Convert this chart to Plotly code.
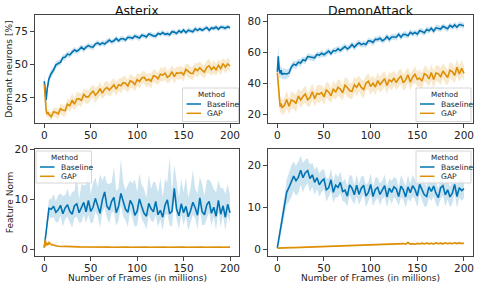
import plotly.graph_objects as go

# ---------------- data ----------------
X = [0, 1, 2, 3, 4, 5] + [7.5 + 2.5 * i for i in range(78)]  # frames (millions)

TITLES = ["Asterix", "DemonAttack"]
METHODS = ["Baseline", "GAP"]
X_TICKS = [0, 50, 100, 150, 200]
Y_TICKS = [[25, 50, 75], [20, 40, 60, 80], [0, 10, 20], [0, 10, 20]]

# Dormant neurons [%], Asterix
AST_BASE = [37.5, 29.0, 23.5, 31.0, 36.5, 39.5,
            43.4, 46.0, 49.9, 51.2, 51.9, 55.3, 55.7, 58.0,
            57.4, 59.5, 61.1, 60.1, 61.3, 63.2, 61.5, 63.3,
            64.4, 63.6, 63.3, 65.6, 66.5, 65.3, 66.5, 65.6,
            67.5, 68.6, 67.2, 68.0, 69.8, 68.0, 69.6, 69.6,
            68.6, 70.7, 70.5, 69.9, 71.7, 70.8, 70.1, 72.3,
            71.9, 70.9, 73.2, 72.6, 71.7, 71.6, 73.6, 72.9,
            74.3, 72.9, 73.4, 72.6, 74.9, 74.6, 73.6, 75.6,
            74.4, 76.2, 74.2, 76.0, 75.7, 74.9, 77.1, 75.9,
            77.1, 76.0, 77.0, 78.0, 76.0, 77.8, 77.3, 78.4,
            76.8, 78.4, 78.2, 77.5, 78.7, 77.9]
AST_BASE_SD = [6.0, 7.0, 5.0, 4.5, 3.5, 3.0,
               3.0, 2.6, 2.8, 2.4, 2.5, 2.2, 2.6, 2.1,
               2.3, 1.9, 2.5, 2.0, 2.2, 1.8, 2.4, 2.0,
               2.1, 1.8, 2.3, 1.9, 2.2, 1.7, 2.0, 2.4,
               1.9, 2.2, 1.7, 2.3, 2.0, 1.8, 2.2, 1.9,
               2.0, 1.7, 2.2, 1.8, 2.1, 1.9, 2.3, 1.7,
               1.9, 2.1, 1.7, 2.0, 1.8, 2.2, 1.7, 1.9,
               2.0, 1.7, 2.1, 1.8, 1.9, 2.2, 1.7, 2.0,
               1.8, 2.0, 1.7, 2.1, 1.8, 1.9, 2.2, 1.7,
               1.9, 1.7, 2.0, 1.8, 2.1, 1.7, 1.9, 2.0,
               1.8, 1.7, 2.0, 1.8, 1.7, 1.6]
AST_GAP = [35.0, 23.0, 15.5, 12.8, 14.0, 12.5,
           10.8, 14.5, 14.0, 12.9, 16.8, 15.6, 15.3, 20.2,
           19.1, 23.2, 20.2, 24.1, 24.2, 23.2, 27.5, 25.7,
           25.7, 28.3, 30.0, 27.0, 28.8, 32.0, 28.6, 31.5,
           32.8, 30.9, 32.9, 34.8, 31.5, 34.9, 34.1, 36.4,
           36.1, 34.0, 37.8, 37.0, 35.0, 38.8, 37.3, 40.0,
           40.6, 38.1, 39.0, 37.6, 41.7, 41.1, 39.3, 42.8,
           42.2, 43.6, 40.5, 41.7, 44.7, 41.0, 43.8, 43.6,
           44.2, 42.4, 46.5, 45.3, 43.6, 43.4, 46.9, 45.6,
           47.7, 45.7, 44.5, 48.1, 49.1, 46.3, 48.3, 46.2,
           49.6, 47.1, 50.8, 48.2, 50.6, 49.0]
AST_GAP_SD = [3.0, 6.0, 4.0, 3.0, 3.0, 3.0,
              3.0, 3.2, 3.5, 3.8, 4.0, 4.2, 4.5, 4.3,
              4.6, 5.2, 4.4, 5.5, 4.8, 5.1, 4.5, 5.6,
              4.9, 5.3, 4.6, 5.8, 4.7, 5.2, 4.5, 5.4,
              5.0, 4.6, 5.5, 4.8, 5.3, 4.5, 5.7, 4.9,
              5.2, 4.7, 5.6, 4.6, 5.1, 4.8, 5.4, 4.5,
              4.9, 5.3, 4.6, 5.5, 4.8, 5.0, 4.5, 5.2,
              4.7, 5.4, 4.5, 5.1, 4.9, 5.3, 4.6, 5.0,
              4.8, 5.2, 4.5, 5.3, 4.7, 5.0, 4.6, 5.4,
              4.9, 4.6, 5.1, 4.8, 5.5, 4.7, 5.0, 4.6,
              4.8, 5.2, 4.5, 4.9, 4.6, 4.4]

# Dormant neurons [%], DemonAttack
DEM_BASE = [47.5, 57.5, 49.0, 46.5, 48.5, 46.0,
            46.4, 46.1, 46.8, 50.6, 52.5, 51.8, 53.7, 53.2,
            55.3, 54.7, 57.4, 57.1, 56.5, 56.6, 58.8, 58.3,
            59.5, 58.6, 59.8, 61.0, 59.3, 61.3, 61.0, 62.4,
            61.4, 62.9, 63.9, 62.3, 63.4, 65.2, 63.4, 65.1,
            66.3, 65.1, 65.8, 65.2, 67.6, 67.4, 66.5, 68.6,
            68.4, 69.3, 67.7, 68.5, 70.3, 68.4, 70.1, 70.1,
            69.9, 71.8, 69.9, 71.8, 71.6, 70.9, 73.1, 72.0,
            73.0, 71.9, 74.1, 73.7, 72.7, 74.9, 74.1, 75.7,
            73.8, 76.0, 75.8, 75.2, 77.0, 76.1, 75.4, 77.6,
            76.4, 77.9, 76.4, 78.1, 77.8, 77.3]
DEM_BASE_SD = [5.0, 7.0, 5.0, 4.0, 3.5, 3.5,
               3.5, 3.0, 2.8, 2.5, 2.4, 2.6, 2.2, 2.4,
               2.1, 2.3, 1.9, 2.2, 2.0, 2.3, 1.9, 2.1,
               2.2, 1.8, 2.3, 1.9, 2.1, 1.8, 2.2, 2.0,
               1.9, 2.2, 1.8, 2.1, 2.0, 1.8, 2.3, 1.9,
               2.1, 1.8, 2.2, 1.9, 2.0, 1.8, 2.2, 1.9,
               1.8, 2.1, 1.9, 2.0, 1.8, 2.2, 1.9, 2.0,
               2.1, 1.8, 2.0, 1.9, 2.2, 1.8, 2.0, 1.9,
               1.8, 2.1, 1.9, 2.0, 1.8, 2.1, 1.9, 1.8,
               2.0, 1.8, 2.1, 1.9, 2.0, 1.8, 2.1, 1.9,
               1.8, 2.0, 1.9, 1.8, 2.0, 1.7]
DEM_GAP = [47.0, 37.0, 29.5, 25.0, 27.0, 24.5,
           25.6, 29.6, 25.3, 29.3, 28.7, 27.0, 31.9, 29.3,
           31.5, 33.2, 29.4, 30.9, 34.6, 30.1, 33.5, 33.1,
           34.1, 31.3, 35.8, 34.5, 32.0, 36.5, 34.3, 37.5,
           36.3, 33.9, 38.8, 37.4, 35.3, 34.9, 39.2, 37.5,
           40.0, 37.4, 36.0, 40.2, 41.4, 38.0, 40.2, 37.7,
           41.8, 39.2, 41.1, 43.1, 38.7, 42.4, 41.1, 43.5,
           40.6, 43.2, 44.7, 40.5, 42.3, 45.5, 40.9, 44.0,
           45.9, 42.6, 43.5, 41.5, 46.3, 45.4, 42.9, 47.1,
           42.5, 46.8, 46.2, 44.4, 48.1, 45.7, 43.9, 48.5,
           47.6, 45.2, 50.5, 46.1, 49.8, 46.5]
DEM_GAP_SD = [3.0, 6.0, 5.0, 5.0, 5.0, 5.0,
              5.2, 5.8, 4.9, 5.5, 5.1, 5.9, 4.8, 5.4,
              5.0, 5.7, 4.7, 5.3, 5.6, 4.9, 5.2, 6.0,
              4.8, 5.4, 5.1, 5.8, 4.7, 5.5, 5.0, 5.3,
              5.6, 4.9, 5.2, 6.1, 4.8, 5.4, 5.0, 5.7,
              4.9, 5.3, 5.6, 4.8, 5.2, 5.5, 4.9, 5.1,
              5.4, 4.8, 5.7, 5.0, 5.3, 4.9, 5.6, 5.1,
              4.8, 5.5, 5.0, 5.2, 5.8, 4.9, 5.3, 5.0,
              5.4, 4.8, 5.6, 5.1, 4.9, 5.5, 5.0, 5.3,
              5.7, 4.9, 5.2, 5.4, 4.8, 5.6, 5.0, 5.2,
              5.5, 4.9, 5.3, 5.0, 5.6, 4.8]

# Feature Norm, Asterix
FA_BASE = [0.3, 1.9, 3.5, 5.1, 6.7, 8.2,
           8.0, 8.6, 7.4, 7.9, 8.8, 7.1, 8.3, 8.9,
           7.6, 7.0, 8.7, 9.1, 7.3, 8.2, 9.4, 7.5,
           9.8, 7.6, 8.4, 10.2, 8.9, 7.2, 9.9, 11.5,
           8.6, 7.9, 9.6, 10.4, 7.3, 8.6, 11.2, 9.3,
           8.0, 7.4, 9.8, 8.9, 6.8, 7.6, 10.1, 8.5,
           7.2, 6.6, 9.2, 8.1, 7.5, 9.6, 6.9, 7.8,
           6.4, 8.8, 9.9, 7.1, 7.6, 12.2, 8.0, 6.7,
           9.1, 7.3, 8.6, 6.5, 7.7, 9.4, 8.3, 6.8,
           10.3, 7.5, 6.9, 8.9, 9.6, 7.2, 8.4, 6.6,
           9.8, 7.0, 8.7, 6.4, 9.0, 7.3]
FA_BASE_SD = [0.3, 1.0, 1.5, 1.5, 1.5, 1.5,
              1.8, 2.2, 2.0, 2.5, 2.1, 2.6, 2.3, 2.4,
              2.2, 2.7, 2.4, 2.6, 2.0, 2.8, 2.5, 2.3,
              2.9, 2.4, 3.0, 2.6, 2.3, 2.9, 2.5, 3.1,
              2.4, 2.8, 2.2, 3.0, 2.6, 2.9, 2.3, 2.7,
              2.2, 2.9, 2.0, 2.6, 2.3, 2.9, 2.1, 2.5,
              2.0, 2.7, 2.3, 2.4, 2.1, 2.8, 2.4, 1.9,
              2.6, 2.1, 2.9, 2.3, 3.1, 2.4, 2.0, 2.7,
              2.2, 2.5, 2.0, 2.8, 2.3, 2.5, 2.1, 2.9,
              2.3, 2.6, 2.1, 2.8, 2.2, 2.5, 2.0, 2.8,
              2.1, 2.6, 1.9, 2.7, 2.2, 2.0]
FA_BASE_SD_HI = [0.5, 1.2, 1.5, 1.5, 1.5, 1.8,
                 2.0, 2.5, 2.2, 3.0, 2.4, 3.5, 2.6, 3.2,
                 2.8, 4.5, 3.0, 5.8, 2.6, 4.9, 3.4, 5.5,
                 6.3, 3.5, 5.0, 4.2, 3.6, 7.8, 3.9, 3.4,
                 4.6, 5.2, 3.8, 6.1, 4.4, 3.7, 6.9, 4.2,
                 3.8, 5.6, 4.0, 4.3, 7.2, 3.9, 5.1, 4.4,
                 4.9, 3.6, 5.8, 4.0, 6.1, 3.7, 4.5, 6.6,
                 4.0, 5.3, 3.5, 11.5, 3.9, 4.8, 6.0, 3.6,
                 5.0, 4.1, 5.9, 3.8, 4.6, 6.5, 3.9, 4.4,
                 4.3, 5.6, 3.8, 5.0, 4.4, 6.1, 3.7, 4.8,
                 4.0, 5.2, 3.6, 4.7, 4.1, 3.5]
FA_GAP = [0.3, 1.9, 0.7, 1.2, 0.8, 1.3,
          0.9, 0.7, 0.65, 0.55, 0.6, 0.5, 0.52, 0.48,
          0.46, 0.44, 0.45, 0.42, 0.43, 0.40, 0.41, 0.39,
          0.38, 0.40, 0.37, 0.39, 0.36, 0.38, 0.37, 0.39,
          0.36, 0.38, 0.35, 0.37, 0.36, 0.38, 0.35, 0.37,
          0.36, 0.38, 0.35, 0.37, 0.36, 0.38, 0.35, 0.37,
          0.36, 0.38, 0.35, 0.37, 0.36, 0.38, 0.35, 0.37,
          0.36, 0.38, 0.35, 0.37, 0.36, 0.38, 0.35, 0.37,
          0.36, 0.38, 0.35, 0.37, 0.36, 0.38, 0.35, 0.37,
          0.36, 0.38, 0.35, 0.37, 0.36, 0.38, 0.35, 0.37,
          0.36, 0.38, 0.35, 0.37, 0.36, 0.37]
FA_GAP_SD = [0.2, 0.5, 0.4, 0.5, 0.4, 0.4,
             0.3, 0.25, 0.2, 0.15, 0.15, 0.12, 0.12, 0.1,
             0.1, 0.1, 0.1, 0.09, 0.09, 0.09, 0.08, 0.08,
             0.08, 0.08, 0.08, 0.08, 0.08, 0.08, 0.08, 0.08,
             0.08, 0.08, 0.08, 0.08, 0.08, 0.08, 0.08, 0.08,
             0.08, 0.08, 0.08, 0.08, 0.08, 0.08, 0.08, 0.08,
             0.08, 0.08, 0.08, 0.08, 0.08, 0.08, 0.08, 0.08,
             0.08, 0.08, 0.08, 0.08, 0.08, 0.08, 0.08, 0.08,
             0.08, 0.08, 0.08, 0.08, 0.08, 0.08, 0.08, 0.08,
             0.08, 0.08, 0.08, 0.08, 0.08, 0.08, 0.08, 0.08,
             0.08, 0.08, 0.08, 0.08, 0.08, 0.08]

# Feature Norm, DemonAttack
FD_BASE = [0.3, 1.6, 2.9, 4.2, 5.5, 6.8,
           10.0, 13.6, 14.8, 16.3, 17.5, 16.4, 17.2, 18.9,
           17.1, 18.3, 18.8, 16.9, 17.8, 16.0, 17.1, 15.4,
           16.3, 16.8, 14.2, 14.7, 16.6, 13.6, 15.3, 14.8,
           16.0, 13.8, 14.1, 12.7, 15.4, 14.6, 13.0, 15.3,
           13.1, 14.6, 15.3, 12.7, 13.6, 15.5, 12.6, 14.3,
           14.8, 13.1, 14.2, 15.2, 12.5, 14.6, 13.6, 14.9,
           14.4, 12.6, 15.1, 14.2, 12.5, 14.9, 13.5, 15.2,
           14.3, 12.7, 15.5, 14.4, 13.0, 12.6, 14.9, 13.8,
           15.1, 13.4, 12.3, 14.7, 15.2, 13.0, 14.2, 12.5,
           13.4, 15.5, 12.6, 14.7, 14.0, 14.5]
FD_BASE_SD = [0.3, 0.8, 1.2, 1.5, 1.8, 2.0,
              2.5, 3.0, 3.5, 3.8, 3.5, 3.6, 3.8, 3.5,
              3.5, 3.2, 3.0, 3.3, 2.9, 3.0, 2.7, 2.8,
              2.6, 2.4, 2.8, 2.3, 2.7, 2.5, 2.9, 2.4,
              2.6, 2.3, 2.8, 2.5, 2.4, 2.9, 2.3, 2.6,
              2.5, 2.8, 2.2, 2.7, 2.4, 2.6, 2.3, 2.8,
              2.4, 2.6, 2.2, 2.7, 2.5, 2.3, 2.8, 2.4,
              2.6, 2.3, 2.7, 2.4, 2.5, 2.8, 2.2, 2.6,
              2.4, 2.7, 2.3, 2.5, 2.8, 2.4, 2.6, 2.2,
              2.5, 2.7, 2.3, 2.6, 2.4, 2.8, 2.3, 2.5,
              2.6, 2.3, 2.7, 2.4, 2.5, 2.2]
FD_GAP = [0.2, 0.22, 0.22, 0.24, 0.25, 0.26,
          0.28, 0.30, 0.31, 0.33, 0.34, 0.36, 0.37, 0.39,
          0.40, 0.42, 0.43, 0.45, 0.46, 0.48, 0.50, 0.52,
          0.54, 0.58, 0.55, 0.62, 0.60, 0.66, 0.63, 0.70,
          0.68, 0.75, 0.72, 0.80, 0.76, 0.85, 0.80, 0.90,
          0.86, 0.95, 0.88, 1.00, 0.92, 1.05, 0.96, 1.08,
          1.00, 1.12, 1.03, 1.15, 1.06, 1.18, 1.08, 1.20,
          1.10, 1.25, 1.12, 1.30, 1.15, 1.55, 1.18, 1.28,
          1.16, 1.35, 1.20, 1.40, 1.22, 1.42, 1.25, 1.38,
          1.22, 1.45, 1.26, 1.40, 1.24, 1.48, 1.28, 1.42,
          1.26, 1.50, 1.30, 1.46, 1.32, 1.40]
FD_GAP_SD = [0.05, 0.05, 0.05, 0.05, 0.06, 0.06,
             0.06, 0.07, 0.07, 0.08, 0.08, 0.08, 0.09, 0.09,
             0.1, 0.1, 0.1, 0.1, 0.11, 0.11, 0.11, 0.12,
             0.12, 0.12, 0.12, 0.13, 0.13, 0.13, 0.14, 0.14,
             0.14, 0.15, 0.15, 0.15, 0.16, 0.16, 0.16, 0.17,
             0.17, 0.17, 0.18, 0.18, 0.18, 0.18, 0.19, 0.19,
             0.19, 0.2, 0.2, 0.2, 0.2, 0.21, 0.21, 0.21,
             0.22, 0.22, 0.22, 0.22, 0.23, 0.3, 0.23, 0.23,
             0.23, 0.24, 0.24, 0.24, 0.24, 0.25, 0.25, 0.25,
             0.25, 0.25, 0.26, 0.26, 0.26, 0.26, 0.26, 0.27,
             0.27, 0.27, 0.27, 0.27, 0.28, 0.28]

# ---------------- figure ----------------
W, H = 479, 286
FONT = "DejaVu Sans"
BLUE, ORANGE = "#0173b2", "#de8f05"
BLUE_FILL, ORANGE_FILL = "rgba(1,115,178,0.2)", "rgba(222,143,5,0.2)"


def fx(p):
    return p / W


def fy(p):
    return 1 - p / H


panels = [
    # (mean, lo_sd, hi_sd) for Baseline, then GAP
    [(AST_BASE, AST_BASE_SD, AST_BASE_SD), (AST_GAP, AST_GAP_SD, AST_GAP_SD)],
    [(DEM_BASE, DEM_BASE_SD, DEM_BASE_SD), (DEM_GAP, DEM_GAP_SD, DEM_GAP_SD)],
    [(FA_BASE, FA_BASE_SD, FA_BASE_SD_HI), (FA_GAP, FA_GAP_SD, FA_GAP_SD)],
    [(FD_BASE, FD_BASE_SD, FD_BASE_SD), (FD_GAP, FD_GAP_SD, FD_GAP_SD)],
]

fig = go.Figure()
for i, series in enumerate(panels):
    xa = "x" if i == 0 else f"x{i + 1}"
    ya = "y" if i == 0 else f"y{i + 1}"
    for (mean, lo, hi), col, fill, name in zip(series, [BLUE, ORANGE],
                                               [BLUE_FILL, ORANGE_FILL], METHODS):
        upper = [m + h for m, h in zip(mean, hi)]
        lower = [m - l for m, l in zip(mean, lo)]
        fig.add_trace(go.Scatter(
            x=X + X[::-1], y=upper + lower[::-1], fill="toself",
            fillcolor=fill, line=dict(width=0), mode="lines",
            hoverinfo="skip", showlegend=False, xaxis=xa, yaxis=ya))
        fig.add_trace(go.Scatter(
            x=X, y=mean, mode="lines", name=name,
            line=dict(color=col, width=1.6), showlegend=False,
            xaxis=xa, yaxis=ya))

# axes geometry in pixels
XDOM = [(35, 239.3), (268, 473.3)]
YDOM = [(15, 123.3), (149, 256.3)]
YRANGES = [[5.8, 87.5], [14.2, 84.3], [-1.47, 20.14], [-1.75, 24.0]]

axis_common = dict(
    showline=True, mirror=True, linecolor="#444", linewidth=1,
    ticks="outside", ticklen=4, tickwidth=1, tickcolor="#444",
    showgrid=False, zeroline=False, automargin=False,
    tickfont=dict(family=FONT, size=10.5, color="#222"),
)

layout = dict(
    template="none",
    width=W, height=H, margin=dict(l=0, r=0, t=0, b=0, pad=0),
    paper_bgcolor="white", plot_bgcolor="white", showlegend=False,
    font=dict(family=FONT, color="#222"),
)
for i in range(4):
    r, c = divmod(i, 2)
    suffix = "" if i == 0 else str(i + 1)
    layout["xaxis" + suffix] = dict(
        axis_common, domain=[fx(XDOM[c][0]), fx(XDOM[c][1])],
        range=[-10, 210], tickvals=X_TICKS, anchor="y" + suffix,
        ticklabelstandoff=-2)
    layout["yaxis" + suffix] = dict(
        axis_common, domain=[fy(YDOM[r][1]), fy(YDOM[r][0])],
        range=YRANGES[i], tickvals=Y_TICKS[i], anchor="x" + suffix,
        ticklabelstandoff=0)
fig.update_layout(**layout)

ann = []
# titles
for c, t in enumerate(TITLES):
    ann.append(dict(text=t, x=fx((XDOM[c][0] + XDOM[c][1]) / 2), y=fy(10),
                    xref="paper", yref="paper", showarrow=False,
                    font=dict(family=FONT, size=12.5, color="#111"),
                    xanchor="center", yanchor="middle"))
# y titles
for r, t in enumerate(["Dormant neurons [%]", "Feature Norm"]):
    ann.append(dict(text=t, x=fx(9.5), y=fy((YDOM[r][0] + YDOM[r][1]) / 2),
                    xref="paper", yref="paper", showarrow=False, textangle=-90,
                    font=dict(family=FONT, size=9, color="#222"),
                    xanchor="center", yanchor="middle"))
# x titles
for c in range(2):
    ann.append(dict(text="Number of Frames (in millions)",
                    x=fx((XDOM[c][0] + XDOM[c][1]) / 2), y=fy(277.5),
                    xref="paper", yref="paper", showarrow=False,
                    font=dict(family=FONT, size=9, color="#222"),
                    xanchor="center", yanchor="middle"))

shapes = []
# manual legends: (box x0, x1, y0, y1) in pixels
LEGENDS = [(182.5, 238.5, 88, 121.5), (416, 471, 88, 121.5),
           (36, 91.5, 151, 183), (416, 471, 151, 183)]
for (x0, x1, y0, y1) in LEGENDS:
    shapes.append(dict(type="rect", xref="paper", yref="paper",
                       x0=fx(x0), x1=fx(x1), y0=fy(y1), y1=fy(y0),
                       fillcolor="rgba(255,255,255,0.8)",
                       line=dict(color="#d6d6d6", width=1)))
    ann.append(dict(text="Method", x=fx((x0 + x1) / 2 + 1), y=fy(y0 + 6.8),
                    xref="paper", yref="paper", showarrow=False,
                    font=dict(family=FONT, size=7.2, color="#222"),
                    xanchor="center", yanchor="middle"))
    for k, (name, col) in enumerate(zip(METHODS, [BLUE, ORANGE])):
        yy = y0 + 16 + 9.3 * k
        shapes.append(dict(type="line", xref="paper", yref="paper",
                           x0=fx(x0 + 4), x1=fx(x0 + 18.5), y0=fy(yy), y1=fy(yy),
                           line=dict(color=col, width=1.5)))
        ann.append(dict(text=name, x=fx(x0 + 22.5), y=fy(yy),
                        xref="paper", yref="paper", showarrow=False,
                        font=dict(family=FONT, size=7.6, color="#222"),
                        xanchor="left", yanchor="middle"))

fig.update_layout(annotations=ann, shapes=shapes)
fig.write_html("out.html", config={"displayModeBar": False},
               post_script="document.body.style.margin='0';"
                           "document.body.style.overflow='hidden';")
